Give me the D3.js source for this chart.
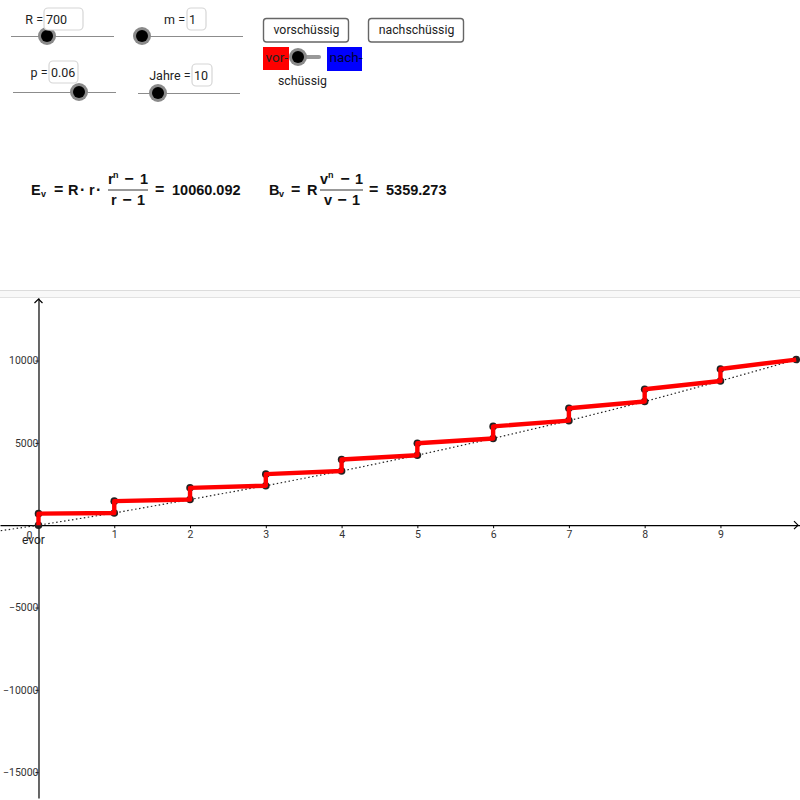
<!DOCTYPE html>
<html>
<head>
<meta charset="utf-8">
<script src="https://cdn.jsdelivr.net/npm/d3@7/dist/d3.min.js"></script>
<style>
  html, body { margin: 0; padding: 0; background: #fff; }
  svg { display: block; }
  text { font-family: Roboto, sans-serif; fill: #222; }
  .formula text { font-family: "Liberation Sans", sans-serif; font-weight: bold; fill: #111; }
</style>
</head>
<body>
<div id="graph"></div>
<script>
// values
var years = [0, 1, 2, 3, 4, 5, 6, 7, 8, 9];
var lowValues = [0, 742, 1560, 2400, 3290, 4250, 5270, 6350, 7510, 8760];
var highValues = [700, 1460, 2270, 3100, 3990, 4980, 6000, 7100, 8260, 9490];
var endYear = 10;
var endValue = 10060;
var curveYears = [-0.55, 0, 1, 2, 3, 4, 5, 6, 7, 8, 9, 10];
var curveValues = [-370, 0, 742, 1560, 2400, 3290, 4250, 5270, 6350, 7510, 8760, 10060];

var xTicks = [1, 2, 3, 4, 5, 6, 7, 8, 9];
var yTicks = [10000, 5000, -5000, -10000, -15000];

var sliderNames = ['R', 'm', 'p', 'Jahre'];
var sliderValues = ['700', '1', '0.06', '10'];

var width = 800, height = 800;

var svg = d3.select('#graph').append('svg')
    .attr('width', width)
    .attr('height', height);

// GRID
var xx = d3.scaleLinear().domain([-0.508, 10.05]).range([0, 800]);
var yy = d3.scaleLinear().domain([13800, -16570]).range([298, 798]);

drawPanel();
drawSliders();
drawButtons();
drawFormula();
drawGraph();

function drawPanel() {
  svg.append('rect')
      .attr('x', 0).attr('y', 291)
      .attr('width', width).attr('height', 6)
      .attr('fill', '#f8f8f8');
  svg.append('line').attr('x1', 0).attr('x2', width).attr('y1', 290.5).attr('y2', 290.5)
      .attr('stroke', '#dcdcdc');
  svg.append('line').attr('x1', 0).attr('x2', width).attr('y1', 297.5).attr('y2', 297.5)
      .attr('stroke', '#e2e2e2');
}

function drawKnob(x, y) {
  svg.append('circle').attr('cx', x).attr('cy', y).attr('r', 9).attr('fill', '#8a8a8a');
  svg.append('circle').attr('cx', x).attr('cy', y).attr('r', 6).attr('fill', '#000');
}

function drawSliders() {
  // x1, x2, line y, knob x, label right edge, box left, box width, box top
  var spots = [
    [11, 114, 36, 47, 43, 44, 39, 8],
    [134, 243, 36, 142, 185, 187, 19, 8],
    [13, 116, 92, 79, 47.5, 49, 29, 61],
    [138, 240, 93, 158, 190.5, 192, 20, 64]
  ];
  sliderNames.forEach(function(name, i) {
    var s = spots[i];
    svg.append('line')
        .attr('x1', s[0]).attr('x2', s[1]).attr('y1', s[2] + 0.5).attr('y2', s[2] + 0.5)
        .attr('stroke', '#8c8c8c').attr('stroke-width', 1);
    drawKnob(s[3], s[2]);
    svg.append('rect')
        .attr('x', s[5]).attr('y', s[7])
        .attr('width', s[6]).attr('height', 22)
        .attr('rx', 4)
        .attr('fill', '#fff').attr('stroke', '#d6d6d6').attr('stroke-width', 1.2);
    svg.append('text')
        .attr('x', s[4]).attr('y', s[7] + 16)
        .attr('text-anchor', 'end')
        .attr('font-size', 12.5)
        .text(name + ' =');
    svg.append('text')
        .attr('x', s[5] + 2).attr('y', s[7] + 16)
        .attr('font-size', 12.5)
        .text(sliderValues[i]);
  });
}

function drawButtons() {
  var labels = ['vorschüssig', 'nachschüssig'];
  var lefts = [263.5, 368.5];
  var widths = [85, 95];
  labels.forEach(function(d, i) {
    svg.append('rect')
        .attr('x', lefts[i]).attr('y', 18.5)
        .attr('width', widths[i]).attr('height', 23.5)
        .attr('rx', 3)
        .attr('fill', '#fff').attr('stroke', '#666').attr('stroke-width', 1.4);
    svg.append('text')
        .attr('x', lefts[i] + widths[i] / 2 + 0.5).attr('y', 34)
        .attr('text-anchor', 'middle')
        .attr('font-size', 12.3)
        .text(d);
  });

  svg.append('rect').attr('x', 263).attr('y', 47).attr('width', 26).attr('height', 23).attr('fill', '#ff0000');
  svg.append('rect').attr('x', 327).attr('y', 47).attr('width', 35).attr('height', 24).attr('fill', '#0000ff');
  svg.append('text').attr('x', 265.5).attr('y', 61.5).attr('font-size', 13.5).text('vor-');
  svg.append('text').attr('x', 329.5).attr('y', 62).attr('font-size', 13.5).style('fill', '#000033').text('nach-');
  svg.append('line')
      .attr('x1', 298).attr('x2', 319).attr('y1', 57).attr('y2', 57)
      .attr('stroke', '#999').attr('stroke-width', 4).attr('stroke-linecap', 'round');
  drawKnob(298, 57);
  svg.append('text').attr('x', 278).attr('y', 85).attr('font-size', 12.3).text('schüssig');
}

function drawFormula() {
  var f = svg.append('g').attr('class', 'formula');

  function put(x, y, str, size, anchor) {
    f.append('text')
        .attr('x', x).attr('y', y)
        .attr('font-size', size || 14.5)
        .attr('text-anchor', anchor || 'start')
        .text(str);
  }
  function bar(x1, x2) {
    f.append('line')
        .attr('x1', x1).attr('x2', x2).attr('y1', 190).attr('y2', 190)
        .attr('stroke', '#333').attr('stroke-width', 1);
  }

  // left formula
  put(31, 195, 'E');
  put(41, 197, 'v', 9);
  put(54, 195, '=', 16);
  put(68, 195, 'R');
  put(80, 195, '·', 16);
  put(89, 195, 'r');
  put(96, 195, '·', 16);
  put(108, 184, 'r');
  put(113, 178, 'n', 9);
  put(129, 184, '−', 16, 'middle');
  put(144, 184, '1', 14.5, 'middle');
  bar(108, 148);
  put(111, 205, 'r');
  put(127, 205, '−', 16, 'middle');
  put(141, 205, '1', 14.5, 'middle');
  put(155, 195, '=', 16);
  put(172, 194.5, '10060.092');

  // right formula
  put(269, 195, 'B');
  put(279, 197, 'v', 9);
  put(291, 195, '=', 16);
  put(307, 195, 'R');
  put(320, 184, 'v');
  put(328, 178, 'n', 9);
  put(345, 184, '−', 16, 'middle');
  put(359, 184, '1', 14.5, 'middle');
  bar(320, 363);
  put(324, 205, 'v');
  put(342, 205, '−', 16, 'middle');
  put(356, 205, '1', 14.5, 'middle');
  put(369, 195, '=', 16);
  put(386, 194.5, '5359.273');
}

function drawGraph() {
  var g = svg.append('g');

  var xAxis = d3.axisBottom(xx).tickValues(xTicks).tickSize(3).tickSizeOuter(0).tickPadding(2);
  var yAxis = d3.axisLeft(yy).tickValues(yTicks).tickSize(3).tickSizeOuter(0).tickPadding(-3)
      .tickFormat(function(d) { return String(d).replace('-', '−'); });

  var gx = g.append('g').attr('transform', 'translate(0,' + yy(0) + ')').call(xAxis);
  var gy = g.append('g').attr('transform', 'translate(' + xx(0) + ',0)').call(yAxis);

  [gx, gy].forEach(function(a) {
    a.selectAll('.domain').attr('stroke', '#000').attr('stroke-width', 1.2);
    a.selectAll('line').attr('stroke', '#000');
    a.selectAll('text').style('font-family', 'Roboto, sans-serif').attr('font-size', 10.5).style('fill', '#333');
  });

  // arrow heads
  g.append('path')
      .attr('d', d3.line()([[xx(0) - 4, 303], [xx(0), 299], [xx(0) + 4, 303]]))
      .attr('fill', 'none').attr('stroke', '#000').attr('stroke-width', 1.2);
  g.append('path')
      .attr('d', d3.line()([[794, yy(0) - 4], [798, yy(0)], [794, yy(0) + 4]]))
      .attr('fill', 'none').attr('stroke', '#000').attr('stroke-width', 1.2);

  // the 0 and the evor label overlap in the original too
  g.append('text').attr('x', xx(0) - 9).attr('y', 539)
      .attr('text-anchor', 'middle').attr('font-size', 10.5).style('fill', '#333').text('0');
  g.append('text').attr('x', 22).attr('y', 544)
      .attr('font-size', 12).text('evor');

  // dotted curve
  var curve = d3.line()
      .x(function(d, i) { return xx(curveYears[i]); })
      .y(function(d) { return yy(d); });
  g.append('path')
      .attr('d', curve(curveValues))
      .attr('fill', 'none')
      .attr('stroke', '#222').attr('stroke-width', 1.2)
      .attr('stroke-dasharray', '1.5,2.5');

  // step points
  var pts = [];
  years.forEach(function(t, i) {
    pts.push([t, lowValues[i]]);
    pts.push([t, highValues[i]]);
  });
  pts.push([endYear, endValue]);

  g.append('g').selectAll('circle')
      .data(pts)
      .enter().append('circle')
      .attr('cx', function(d) { return xx(d[0]); })
      .attr('cy', function(d) { return yy(d[1]); })
      .attr('r', 3.8)
      .attr('fill', '#222');

  var step = d3.line()
      .x(function(d) { return xx(d[0]); })
      .y(function(d) { return yy(d[1]); });
  g.append('path')
      .attr('d', step(pts))
      .attr('fill', 'none')
      .attr('stroke', '#ff0000')
      .attr('stroke-width', 4.4)
      .attr('stroke-linejoin', 'round');
}
</script>
</body>
</html>
